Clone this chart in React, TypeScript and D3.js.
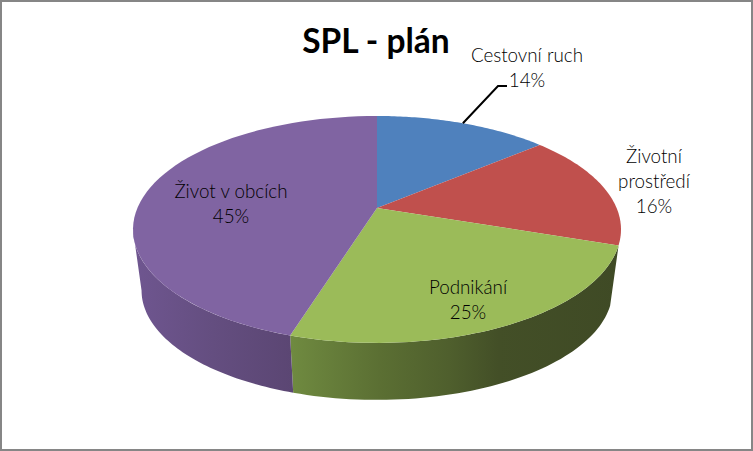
import * as d3 from "d3";

// slice shares in percent, clockwise from 12 o'clock
const categories = ["Cestovní ruch", "Životní prostředí", "Podnikání", "Život v obcích"];
const shares = [13.8, 16.4, 24.6, 45.2];
const topColors = ["#4f81bd", "#c0504d", "#9bbb59", "#8064a2"];
const labelLines = [["Cestovní ruch"], ["Životní", "prostředí"], ["Podnikání"], ["Život v obcích"]];
const labelCentres: [number, number][] = [[527, 68], [654, 182], [468, 300], [231, 204]];

const width = 753;
const height = 451;
const cx = 377;
const cy = 208;

// the pie is tilted with some perspective, so the circle goes through a projective map
const persp = -0.189;
const scaleX = 239.6;
const scaleY = 109.4;
const wallScale = 0.965;
const wallDrop = 61.7;

type Pt = [number, number];

const top = (a: number): Pt => {
  const u = Math.sin(a);
  const v = -Math.cos(a);
  const w = 1 + persp * v;
  return [cx + (scaleX * u) / w, cy + (scaleY * v) / w];
};
const bottom = (a: number): Pt => {
  const [x, y] = top(a);
  return [cx + (x - cx) * wallScale, cy + (y - cy) * wallScale + wallDrop];
};

const arcAngles = (a0: number, a1: number) =>
  d3.range(0, 61).map((i) => a0 + ((a1 - a0) * i) / 60);

export default function App() {
  const pie = d3.pie<number>().sort(null)(shares);
  const line = d3.line();
  const pct = d3.format(".0f");
  // the wall ends where the rim turns away on the left side
  const wallEnd = (259 * Math.PI) / 180;

  const walls = pie
    .map((s, i) => ({ i, a0: s.startAngle, a1: Math.min(s.endAngle, wallEnd) }))
    .filter((w) => w.i >= 2);

  const leaderStart = top((pie[0].startAngle + pie[0].endAngle) / 2);

  return (
    <svg
      width={width}
      height={height}
      viewBox={`0 0 ${width} ${height}`}
      style={{ position: "fixed", left: 0, top: 0, fontFamily: "Lato, sans-serif" }}
    >
      <defs>
        <linearGradient id="wall2" gradientUnits="userSpaceOnUse" x1={291} x2={620} y1={0} y2={0}>
          <stop offset="0" stopColor="#6f8a40" />
          <stop offset="0.27" stopColor="#5b6f33" />
          <stop offset="0.48" stopColor="#4f5f2d" />
          <stop offset="0.63" stopColor="#434f27" />
          <stop offset="1" stopColor="#3f4a25" />
        </linearGradient>
        <linearGradient id="wall3" gradientUnits="userSpaceOnUse" x1={133} x2={292} y1={0} y2={0}>
          <stop offset="0" stopColor="#6f5690" />
          <stop offset="0.5" stopColor="#644e80" />
          <stop offset="1" stopColor="#5b4673" />
        </linearGradient>
      </defs>
      <rect x={1} y={1} width={width - 2} height={height - 2} fill="#fff" stroke="#868686" strokeWidth={2} />

      {walls.map((w) => {
        const as = arcAngles(w.a0, w.a1);
        const pts = [...as.map(top), ...as.slice().reverse().map(bottom)];
        return <path key={w.i} d={line(pts) + "Z"} fill={`url(#wall${w.i})`} />;
      })}

      {pie.map((s, i) => {
        const pts: Pt[] = [[cx, cy], ...arcAngles(s.startAngle, s.endAngle).map(top)];
        return <path key={i} d={line(pts) + "Z"} fill={topColors[i]} />;
      })}

      <polyline
        points={[leaderStart, [498, 86], [507, 86]].map((p) => p.join(",")).join(" ")}
        fill="none"
        stroke="#000"
        strokeWidth={2}
      />

      <text x={376} y={53} textAnchor="middle" fontSize={33.5} fontWeight={700} fill="#000">
        SPL - plán
      </text>

      {categories.map((c, i) => {
        const rows = [...labelLines[i], `${pct(shares[i])}%`];
        const [lx, ly] = labelCentres[i];
        return (
          <text key={c} textAnchor="middle" fontSize={18.8} fontWeight={300} fill="#000">
            {rows.map((r, j) => (
              <tspan key={j} x={lx} y={ly - ((rows.length - 1) * 25) / 2 + j * 25 + 6}>
                {r}
              </tspan>
            ))}
          </text>
        );
      })}
    </svg>
  );
}
